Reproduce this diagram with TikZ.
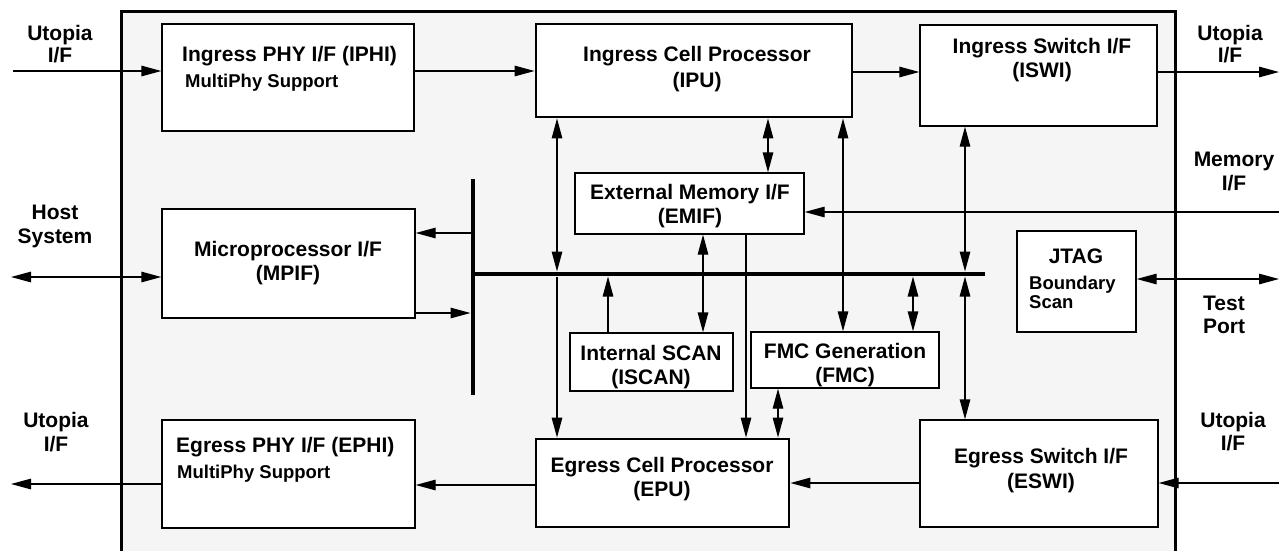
\documentclass[tikz,border=0pt]{standalone}
\usepackage{fontspec}
\setmainfont{Liberation Sans}
\usetikzlibrary{arrows.meta}
\definecolor{framebg}{RGB}{245,245,245}
\begin{document}
\begin{tikzpicture}[x=1pt,y=-1pt,
  box/.style={draw, line width=1.3pt, fill=white, inner sep=0pt},
  thickbox/.style={box, line width=2.8pt},
  busline/.style={fill=black, inner sep=0pt},
  conn/.style={line width=1.3pt, >={Triangle[length=20pt,width=10.5pt]}},
  lbl/.style={inner sep=0pt, align=center, anchor=base, font=\bfseries\fontsize{21}{24}\selectfont},
  sub/.style={inner sep=0pt, align=left, anchor=base west, font=\bfseries\fontsize{18.5}{19}\selectfont}]
\useasboundingbox (0,0) rectangle (1279,550);
% outer frame
\fill[framebg] (121,11) rectangle (1175,560);
\draw[line width=3pt] (121,560) -- (121,11) -- (1175,11) -- (1175,560);
% boxes
\node[box, minimum width=252pt, minimum height=107pt] (iphi) at (288,77.5) {};
\node[thickbox, minimum width=316pt, minimum height=93pt] (ipu) at (694,70.5) {};
\node[box, minimum width=237pt, minimum height=101pt] (iswi) at (1038.5,75.5) {};
\node[box, minimum width=229pt, minimum height=61pt] (emif) at (689.5,203.5) {};
\node[box, minimum width=253pt, minimum height=109pt] (mpif) at (288.5,263.5) {};
\node[box, minimum width=119pt, minimum height=101pt] (jtag) at (1076.5,281.5) {};
\node[box, minimum width=163pt, minimum height=58pt] (iscan) at (651.5,362) {};
\node[box, minimum width=188pt, minimum height=56pt] (fmc) at (845,360) {};
\node[box, minimum width=253pt, minimum height=108pt] (ephi) at (288.5,474) {};
\node[thickbox, minimum width=253pt, minimum height=88pt] (epu) at (662.5,483) {};
\node[box, minimum width=238pt, minimum height=107pt] (eswi) at (1039,473.5) {};
% bus
\node[busline, minimum width=512pt, minimum height=4.6pt] (bus) at (729,274) {};
\node[busline, minimum width=4.6pt, minimum height=216pt] (bar) at (473,287) {};
% coordinates
\coordinate (uTL) at (13,71);
\coordinate (uTR) at (1279,72);
\coordinate (mem) at (1279,212);
\coordinate (host) at (11,277);
\coordinate (r233) at (0,233);
\coordinate (r313) at (0,313);
\coordinate (xa) at (557,0);
\coordinate (xb) at (768,0);
\coordinate (xc) at (843,0);
\coordinate (xd) at (965,0);
\coordinate (xe) at (703,0);
\coordinate (xf) at (608,0);
\coordinate (xg) at (746,0);
\coordinate (xh) at (913,0);
\coordinate (xi) at (778,0);
\coordinate (r485) at (0,485);
\coordinate (uBL) at (11,484);
\coordinate (uBR) at (1279,483);
\coordinate (tp) at (1279,279);
% connectors
\draw[conn,->] (uTL) -- (uTL -| iphi.west);
\draw[conn,->] (uTL -| iphi.east) -- (uTL -| ipu.west);
\draw[conn,->] (uTR -| ipu.east) -- (uTR -| iswi.west);
\draw[conn,->] (uTR -| iswi.east) -- (uTR);
\draw[conn,->] (mem) -- (mem -| emif.east);
\draw[conn,<->] (host) -- (host -| mpif.west);
\draw[conn,->] (r233 -| bar.west) -- (r233 -| mpif.east);
\draw[conn,->] (r313 -| mpif.east) -- (r313 -| bar.west);
\draw[conn,<->] (xa |- ipu.south) -- (xa |- bus.north);
\draw[conn,->] (xa |- bus.south) -- (xa |- epu.north);
\draw[conn,<->] (xb |- ipu.south) -- (xb |- emif.north);
\draw[conn,<->] (xc |- ipu.south) -- (xc |- fmc.north);
\draw[conn,<->] (xd |- iswi.south) -- (xd |- bus.north);
\draw[conn,<->] (xd |- bus.south) -- (xd |- eswi.north);
\draw[conn,<->] (xe |- emif.south) -- (xe |- iscan.north);
\draw[conn,->] (xf |- iscan.north) -- (xf |- bus.south);
\draw[conn,->] (xg |- emif.south) -- (xg |- epu.north);
\draw[conn,<->] (xh |- bus.south) -- (xh |- fmc.north);
\draw[conn,<->] (xi |- fmc.south) -- (xi |- epu.north);
\draw[conn,->] (r485 -| epu.west) -- (r485 -| ephi.east);
\draw[conn,->] (uBL -| ephi.west) -- (uBL);
\draw[conn,->] (uBR) -- (uBR -| eswi.east);
\draw[conn,->] (uBR -| eswi.west) -- (uBR -| epu.east);
\draw[conn,<->] (tp -| jtag.east) -- (tp);
% texts (base anchor = baseline of the last line)
\node[lbl] (tUTL) at (60,62) {Utopia\\[-2pt]I/F};
\node[lbl] (tHost) at (55,243) {Host\\System};
\node[lbl] (tUBL) at (56,451) {Utopia\\I/F};
\node[lbl] (tUTR) at (1230,62) {Utopia\\[-2pt]I/F};
\node[lbl] (tMem) at (1234,190) {Memory\\I/F};
\node[lbl] (tTest) at (1224,333) {Test\\[-1pt]Port};
\node[lbl] (tUBR) at (1233,450) {Utopia\\[-1pt]I/F};
\node[lbl, anchor=base west] (tIPHI) at (182,61) {Ingress PHY I/F (IPHI)};
\node[sub] (tIPHI2) at (185,87) {MultiPhy Support};
\node[lbl] (tIPU) at (697,87) {Ingress Cell Processor\\[2pt](IPU)};
\node[lbl] (tISWI) at (1042,77) {Ingress Switch I/F\\(ISWI)};
\node[lbl] (tEMIF) at (690,223) {External Memory I/F\\(EMIF)};
\node[lbl] (tMPIF) at (288,280) {Microprocessor I/F\\(MPIF)};
\node[lbl] (tISCAN) at (651,384) {Internal SCAN\\(ISCAN)};
\node[lbl] (tFMC) at (845,382) {FMC Generation\\(FMC)};
\node[lbl] (tEPU) at (662,496) {Egress Cell Processor\\(EPU)};
\node[lbl] (tESWI) at (1041,488) {Egress Switch I/F\\[1pt](ESWI)};
\node[lbl] (tJTAG) at (1076,263) {JTAG};
\node[sub] (tBS) at (1029,308) {Boundary\\Scan};
\node[lbl, anchor=base west] (tEPHI) at (176,452) {Egress PHY I/F (EPHI)};
\node[sub] (tEPHI2) at (177,478) {MultiPhy Support};
\end{tikzpicture}
\end{document}
